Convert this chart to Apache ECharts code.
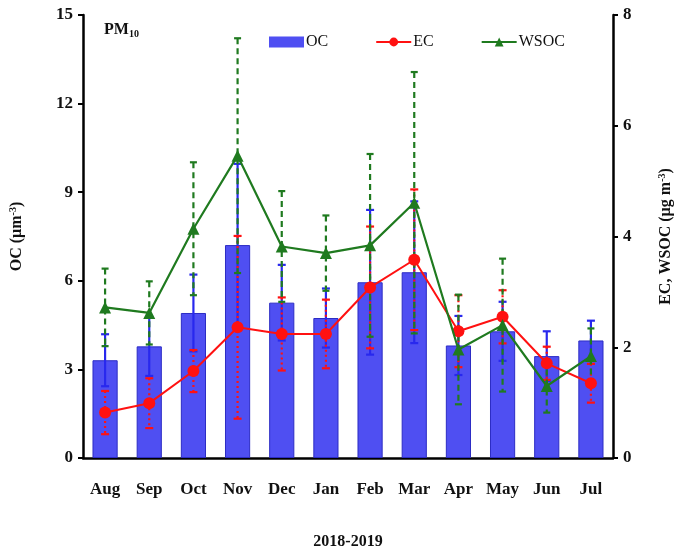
<!DOCTYPE html>
<html><head><meta charset="utf-8">
<script src="https://cdn.jsdelivr.net/npm/echarts@6/dist/echarts.min.js"></script>
<style>html,body{margin:0;padding:0;background:#fff}#c{width:682px;height:555px}</style>
</head><body><div id="c"></div>
<script>
const months = ['Aug','Sep','Oct','Nov','Dec','Jan','Feb','Mar','Apr','May','Jun','Jul'];
const ocMean = [3.31,3.78,4.91,7.21,5.26,4.74,5.95,6.29,3.81,4.29,3.45,3.98];
const ocErr  = [0.88,1.00,1.30,2.75,1.28,1.00,2.45,2.40,1.00,1.00,0.84,0.67];
const ecMean = [0.82,0.99,1.57,2.36,2.24,2.24,3.08,3.58,2.29,2.55,1.71,1.35];
const ecErr  = [0.39,0.45,0.38,1.65,0.66,0.62,1.10,1.27,0.65,0.48,0.30,0.35];
const wsocMean = [2.72,2.62,4.14,5.46,3.82,3.70,3.84,4.61,1.96,2.40,1.30,1.84];
const wsocErr  = [0.70,0.57,1.20,2.12,1.00,0.68,1.65,2.36,0.99,1.20,0.48,0.50];
const leftTicks = [0,3,6,9,12,15];
const rightTicks = [0,2,4,6,8];

const FONT = '"Liberation Serif", "Times New Roman", serif';
const OC_COL = '#4f4ff2', EC_COL = '#ff1111', WS_COL = '#1f7a1f';

function errSeries(name, mean, err, color, dash, yIdx, capW) {
  return {
    type: 'custom', name: name + ' err', yAxisIndex: yIdx, z: 5,
    encode: {x: 0, y: 1},
    data: mean.map((m, i) => [i, m, err[i]]),
    renderItem: function (params, api) {
      const i = api.value(0), m = api.value(1), e = api.value(2);
      const t = api.coord([i, m + e]), b = api.coord([i, m - e]);
      const x = t[0];
      const st = {stroke: color, lineWidth: 2.2, lineDash: dash};
      const cs = {stroke: color, lineWidth: 2.2};
      return {type: 'group', children: [
        {type: 'line', shape: {x1: x, y1: t[1], x2: x, y2: b[1]}, style: st},
        {type: 'line', shape: {x1: x - capW/2, y1: t[1], x2: x + capW/2, y2: t[1]}, style: cs},
        {type: 'line', shape: {x1: x - capW/2, y1: b[1], x2: x + capW/2, y2: b[1]}, style: cs}
      ]};
    },
    silent: true
  };
}

const chart = echarts.init(document.getElementById('c'));
const axisFont = {fontFamily: FONT, fontWeight: 'bold', fontSize: 17, color: '#111'};
chart.setOption({
  animation: false,
  backgroundColor: '#fff',
  title: {
    text: '{a|PM}{b|10}', left: 99, top: 16,
    textStyle: {rich: {
      a: {fontFamily: FONT, fontWeight: 'bold', fontSize: 16, color: '#111'},
      b: {fontFamily: FONT, fontWeight: 'bold', fontSize: 10, color: '#111', verticalAlign: 'bottom', padding: [8, 0, 0, 0]}
    }}
  },
  legend: {
    data: [{name: 'OC', icon: 'rect', itemStyle: {color: OC_COL, borderWidth: 0}}, 'EC', 'WSOC'],
    left: 264, top: 29, itemWidth: 35, itemHeight: 11, itemGap: 47,
    textStyle: {fontFamily: FONT, fontSize: 16, color: '#111', padding: [0, 0, 0, -3]}
  },
  grid: {left: 83, right: 69, top: 15, bottom: 94},
  xAxis: {
    type: 'category', data: months,
    axisLine: {lineStyle: {color: '#000', width: 2.5}},
    axisTick: {lineStyle: {color: '#000', width: 2}, length: 5},
    axisLabel: Object.assign({margin: 23}, axisFont),
    name: '2018-2019', nameLocation: 'middle', nameGap: 76,
    nameTextStyle: {fontFamily: FONT, fontWeight: 'bold', fontSize: 16, color: '#111'}
  },
  yAxis: [{
    type: 'value', min: 0, max: 15, interval: 3,
    axisLine: {show: true, lineStyle: {color: '#000', width: 2.5}},
    axisTick: {show: true, lineStyle: {color: '#000', width: 2}, length: 5},
    splitLine: {show: false},
    axisLabel: Object.assign({margin: 10, formatter: v => leftTicks.includes(v) ? String(v) : ''}, axisFont),
    name: '{a|OC (µm}{b|-3}{a|)}', nameLocation: 'middle', nameGap: 57,
    nameTextStyle: {rich: {
      a: {fontFamily: FONT, fontWeight: 'bold', fontSize: 16, color: '#111'},
      b: {fontFamily: FONT, fontWeight: 'bold', fontSize: 10, color: '#111', verticalAlign: 'top', padding: [0, 0, 8, 0]}
    }}
  }, {
    type: 'value', min: 0, max: 8, interval: 2, position: 'right',
    axisLine: {show: true, lineStyle: {color: '#000', width: 2.5}},
    axisTick: {show: true, lineStyle: {color: '#000', width: 2}, length: 5},
    splitLine: {show: false},
    axisLabel: Object.assign({margin: 10, formatter: v => rightTicks.includes(v) ? String(v) : ''}, axisFont),
    name: '{a|EC, WSOC (µg m}{b|-3}{a|)}', nameLocation: 'middle', nameGap: 44,
    nameTextStyle: {rich: {
      a: {fontFamily: FONT, fontWeight: 'bold', fontSize: 16, color: '#111'},
      b: {fontFamily: FONT, fontWeight: 'bold', fontSize: 10, color: '#111', verticalAlign: 'top', padding: [0, 0, 8, 0]}
    }}
  }],
  series: [
    {type: 'bar', name: 'OC', data: ocMean, yAxisIndex: 0, barWidth: '57%', z: 2,
     itemStyle: {color: OC_COL, borderColor: '#2c2cc4', borderWidth: 1}},
    errSeries('OC', ocMean, ocErr, '#2828ee', null, 0, 8),
    errSeries('EC', ecMean, ecErr, EC_COL, [2, 3], 1, 8),
    errSeries('WSOC', wsocMean, wsocErr, WS_COL, [6, 4], 1, 7),
    {type: 'line', name: 'EC', data: ecMean, yAxisIndex: 1, z: 8,
     symbol: 'circle', symbolSize: 12,
     lineStyle: {color: EC_COL, width: 2}, itemStyle: {color: EC_COL}},
    {type: 'line', name: 'WSOC', data: wsocMean, yAxisIndex: 1, z: 9,
     symbol: 'triangle', symbolSize: 12,
     lineStyle: {color: WS_COL, width: 2.2}, itemStyle: {color: WS_COL}}
  ]
});
</script></body></html>
